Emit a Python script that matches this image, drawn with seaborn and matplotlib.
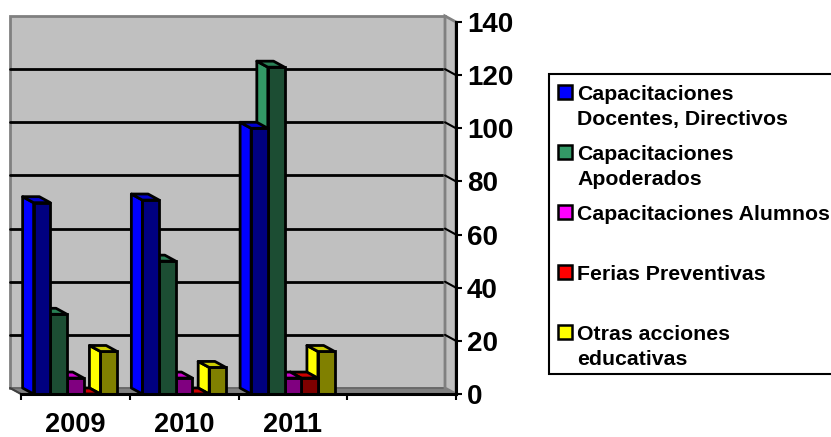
import matplotlib
matplotlib.use("Agg")
import matplotlib.pyplot as plt
from matplotlib.patches import Polygon, Rectangle
import pandas as pd
import seaborn as sns

years = ["2009", "2010", "2011"]
serie_names = ["Capacitaciones\nDocentes, Directivos", "Capacitaciones\nApoderados",
               "Capacitaciones Alumnos", "Ferias Preventivas", "Otras acciones\neducativas"]
docentes = [72, 73, 100]
apoderados = [30, 50, 123]
alumnos = [6, 6, 6]
ferias = [0, 0, 6]
otras = [16, 10, 16]
yticks = [0, 20, 40, 60, 80, 100, 120, 140]

front_colors = ["#000080", "#1c4d33", "#800080", "#800000", "#808000"]
side_colors = ["#0000ff", "#339966", "#ff00ff", "#ff0000", "#ffff00"]
top_colors = ["#0000cc", "#298055", "#cc00cc", "#cc0000", "#cccc00"]

rows = []
for name, vals in zip(serie_names, [docentes, apoderados, alumnos, ferias, otras]):
    for y, v in zip(years, vals):
        rows.append({"year": y, "value": v, "serie": name})
df = pd.DataFrame(rows)

sns.set_theme(style="white")
plt.rcParams["font.family"] = ["Liberation Sans", "DejaVu Sans"]
plt.rcParams["font.weight"] = "bold"

W, H = 831, 437
fig = plt.figure(figsize=(W / 100, H / 100), dpi=100, facecolor="white")
# axes = the front plane of the fake 3D box
ax = fig.add_axes([21 / W, 1 - 394 / H, (456 - 21) / W, (394 - 22) / H])
ax.patch.set_alpha(0)

sns.barplot(data=df, x="year", y="value", hue="serie", hue_order=serie_names,
            order=years + [" "], palette=front_colors, saturation=1, width=0.768, gap=0,
            edgecolor="black", linewidth=2, legend=False, ax=ax)
ax.set_xlim(-0.5, 3.5)
ax.set_ylim(0, 140)

# depth of the box, in data units
dx = 11 / 108.75
dy = 6 / (372 / 140)

# back wall, floor, right wall
ax.add_patch(Polygon([(-0.5 - dx, dy), (3.5 - dx, dy), (3.5 - dx, 140 + dy), (-0.5 - dx, 140 + dy)],
                     fc="#c0c0c0", ec="#808080", lw=2, clip_on=False, zorder=0.5))
ax.add_patch(Polygon([(-0.5, 0), (3.5, 0), (3.5 - dx, dy), (-0.5 - dx, dy)],
                     fc="#808080", ec="#606060", lw=1, clip_on=False, zorder=0.6))
for t in yticks[1:-1]:
    ax.plot([-0.5 - dx, 3.5 - dx], [t + dy, t + dy], color="black", lw=2, zorder=0.8, clip_on=False)
ax.add_patch(Polygon([(3.5 - dx, dy), (3.5, 0), (3.5, 140), (3.5 - dx, 140 + dy)],
                     fc="#c0c0c0", ec="#808080", lw=2, clip_on=False, zorder=0.85))
for t in yticks[1:-1]:
    ax.plot([3.5 - dx, 3.5], [t + dy, t], color="black", lw=1.5, zorder=0.9, clip_on=False)
ax.plot([-0.5 - dx, -0.5], [dy, 0], color="#404040", lw=1.5, zorder=0.9, clip_on=False)

# side and top faces, drawn right to left so left bars sit in front
for i, cont in enumerate(ax.containers):
    z = 10 + (len(ax.containers) - i) * 3
    for bar in cont:
        x, w, h = bar.get_x(), bar.get_width(), bar.get_height()
        bar.set_zorder(z)
        ax.add_patch(Polygon([(x, 0), (x, h), (x - dx, h + dy), (x - dx, dy)],
                             fc=side_colors[i], ec="black", lw=2, joinstyle="round", clip_on=False, zorder=z))
        ax.add_patch(Polygon([(x, h), (x + w, h), (x + w - dx, h + dy), (x - dx, h + dy)],
                             fc=top_colors[i], ec="black", lw=2, joinstyle="round", clip_on=False, zorder=z))

sns.despine(ax=ax, left=True, top=True, right=False, bottom=False)
for s in ["right", "bottom"]:
    ax.spines[s].set_linewidth(2.2)
    ax.spines[s].set_color("black")
    ax.spines[s].set_zorder(40)

ax.yaxis.tick_right()
ax.set_yticks(yticks)
ax.set_yticklabels([str(t) for t in yticks], fontsize=20, fontweight="bold", color="black")
ax.tick_params(axis="y", length=4.5, width=1.5, color="black", pad=3.5)
ax.set_xticks([0, 1, 2])
ax.set_xticklabels(years, fontsize=19.5, fontweight="bold", color="black")
ax.tick_params(axis="x", length=0, pad=13)
ax.set_xticks([-0.5, 0.5, 1.5, 2.5, 3.5], minor=True)
ax.tick_params(axis="x", which="minor", bottom=True, length=4.5, width=1.5, color="black")
ax.set_xlabel("")
ax.set_ylabel("")

# legend box runs off the right edge of the picture
fig.add_artist(Rectangle((549 / W, 1 - 374 / H), 300 / W, 300 / H, fc="white", ec="black", lw=1.5,
                         transform=fig.transFigure))
for i, name in enumerate(serie_names):
    top = 85 + i * 60
    fig.add_artist(Rectangle((557.5 / W, 1 - (top + 14) / H), 14 / W, 14 / H, fc=side_colors[i],
                             ec="black", lw=1.8, transform=fig.transFigure))
    for j, line in enumerate(name.split("\n")):
        fig.text(577 / W, 1 - (top + 15 + j * 25) / H, line, fontsize=15.3, fontweight="bold",
                 color="black", va="baseline", ha="left")

fig.savefig("out.png", dpi=100)
